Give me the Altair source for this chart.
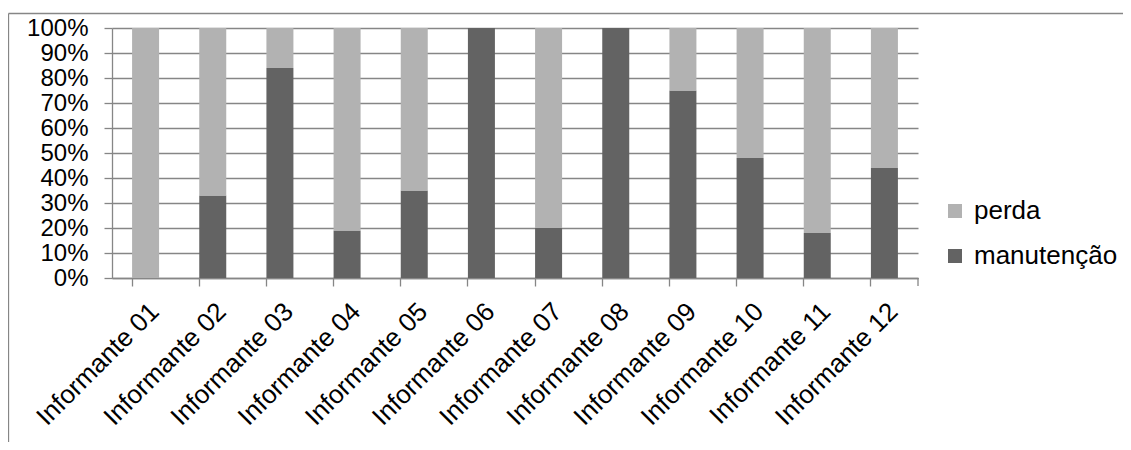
import altair as alt
import pandas as pd

categories = [f"Informante {i:02d}" for i in range(1, 13)]
manutencao = [0, 33, 84, 19, 35, 100, 20, 100, 75, 48, 18, 44]
perda = [100, 67, 16, 81, 65, 0, 80, 0, 25, 52, 82, 56]
series = ["perda", "manutenção"]
colors = ["#b2b2b2", "#636363"]

rows = []
for c, m, p in zip(categories, manutencao, perda):
    rows.append({"cat": c, "serie": "manutenção", "val": m, "ord": 0})
    rows.append({"cat": c, "serie": "perda", "val": p, "ord": 1})
df = pd.DataFrame(rows)

FONT = "Liberation Sans"
FS = 26
FSY = 24
W, H = 806, 250

bars = alt.Chart(df).mark_bar(size=27).encode(
    x=alt.X("cat:N", sort=categories, title=None,
            scale=alt.Scale(paddingInner=0.6, paddingOuter=0.3),
            axis=alt.Axis(labelAngle=-45, labelAlign="right", labelBaseline="top",
                          bandPosition=0, tickSize=8, labelPadding=12,
                          labelOverlap=False,
                          domainColor="#868686", tickColor="#868686",
                          domainWidth=1.3, tickWidth=1.3, grid=False,
                          labelFontSize=FS, labelFont=FONT, labelColor="#000000")),
    y=alt.Y("val:Q", stack="normalize", title=None,
            scale=alt.Scale(domain=[0, 1], nice=False),
            axis=alt.Axis(format=".0%", values=[i / 10 for i in range(11)],
                          labelOverlap=False,
                          tickSize=8, labelPadding=16, grid=True,
                          gridColor="#868686", gridWidth=1.3,
                          domainColor="#868686", tickColor="#868686",
                          domainWidth=1.3, tickWidth=1.3,
                          labelFontSize=FSY, labelFont=FONT, labelColor="#000000")),
    color=alt.Color("serie:N", scale=alt.Scale(domain=series, range=colors),
                    legend=alt.Legend(title=None, orient="none", legendX=830, legendY=170,
                                      symbolType="square", symbolSize=196,
                                      symbolStrokeWidth=0, labelFontSize=FS,
                                      labelFont=FONT, labelColor="#000000",
                                      labelOffset=6, rowPadding=19)),
    order=alt.Order("ord:Q"),
)

deco = pd.DataFrame({"k": [0]})
frame_top = alt.Chart(deco).mark_rule(color="#868686", strokeWidth=1.3).encode(
    x=alt.value(-103.5), x2=alt.value(1020), y=alt.value(-14.5))
frame_left = alt.Chart(deco).mark_rule(color="#868686", strokeWidth=1.3).encode(
    x=alt.value(-103.5), y=alt.value(-14.5), y2=alt.value(425))
end_tick = alt.Chart(deco).mark_rule(color="#868686", strokeWidth=1.3).encode(
    x=alt.value(W), y=alt.value(H), y2=alt.value(H + 8))

chart = alt.layer(bars, frame_top, frame_left, end_tick).properties(
    width=W, height=H,
    autosize=alt.AutoSizeParams(type="none"),
    padding={"left": 104, "top": 20, "right": 205, "bottom": 164},
).configure_view(stroke=None)

chart.save("out.html", embed_options={"renderer": "svg", "actions": False})
